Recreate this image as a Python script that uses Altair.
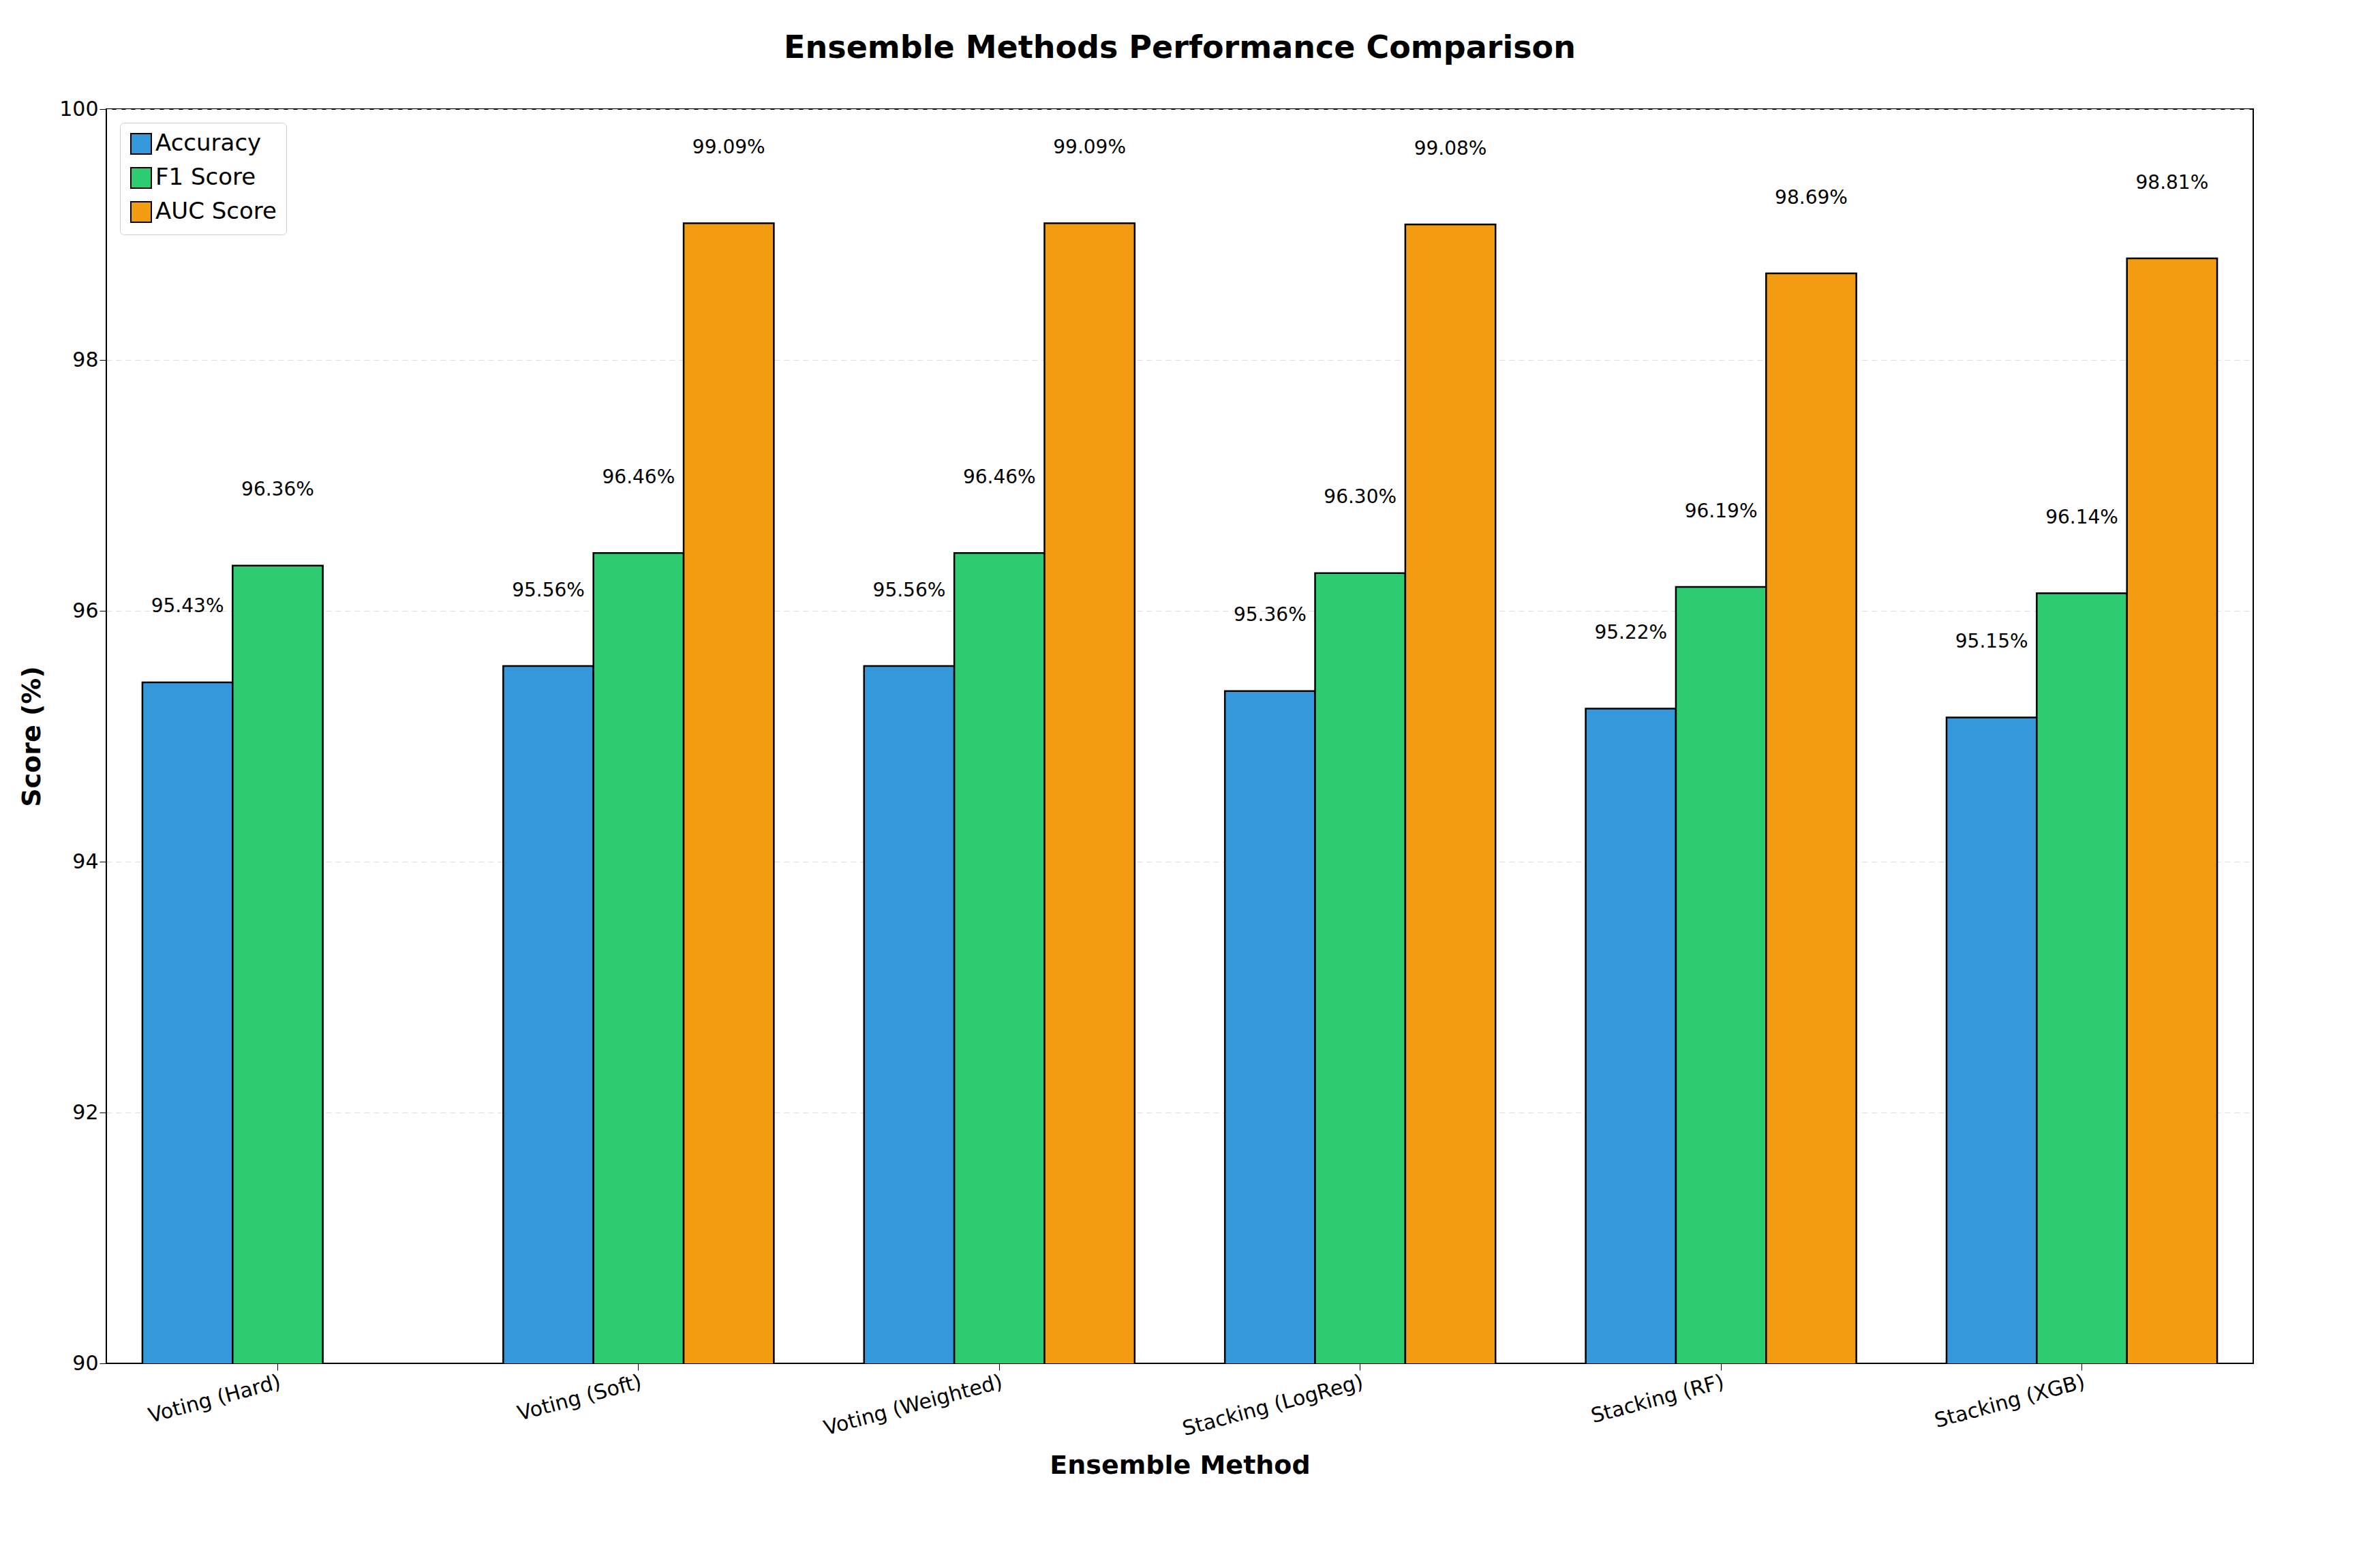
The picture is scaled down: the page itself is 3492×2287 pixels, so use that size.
import altair as alt
import pandas as pd

methods = ["Voting (Hard)", "Voting (Soft)", "Voting (Weighted)",
           "Stacking (LogReg)", "Stacking (RF)", "Stacking (XGB)"]
metrics = ["Accuracy", "F1 Score", "AUC Score"]
accuracy = [95.43, 95.56, 95.56, 95.36, 95.22, 95.15]
f1 = [96.36, 96.46, 96.46, 96.30, 96.19, 96.14]
auc = [None, 99.09, 99.09, 99.08, 98.69, 98.81]
colors = ["#3498db", "#2ecc71", "#f39c12"]

rows = []
for i, m in enumerate(methods):
    for metric, vals in zip(metrics, [accuracy, f1, auc]):
        if vals[i] is not None:
            rows.append({"method": m, "metric": metric, "score": vals[i],
                         "label": f"{vals[i]:.2f}%", "ly": vals[i] + 0.6})
frame = pd.DataFrame(rows)

x = alt.X("method:N", sort=methods, title="Ensemble Method",
          scale=alt.Scale(paddingInner=0.25, paddingOuter=0.1),
          axis=alt.Axis(labelAngle=-15, labelAlign="right", labelFontSize=30, labelLimit=0,
                        titleFontSize=38, titleFontWeight="bold", titlePadding=20,
                        tickSize=10, labelColor="black", domainColor="black", tickColor="black"))
xo = alt.XOffset("metric:N", sort=metrics)

base = alt.Chart(frame)
bars = base.mark_bar(stroke="black", strokeWidth=2.5, clip=True).encode(
    x=x, xOffset=xo,
    y=alt.Y("score:Q", title="Score (%)", scale=alt.Scale(domain=[90, 100]),
            axis=alt.Axis(values=[90, 92, 94, 96, 98, 100], format="d", labelFontSize=30,
                          titleFontSize=38, titleFontWeight="bold", titlePadding=20,
                          gridDash=[8, 6], gridColor="#dddddd", tickSize=10,
                          labelColor="black", domainColor="black", tickColor="black")),
    color=alt.Color("metric:N", sort=metrics, title=None,
                    scale=alt.Scale(domain=metrics, range=colors),
                    legend=alt.Legend(orient="top-left", labelFontSize=34, labelLimit=0,
                                      symbolType="square", symbolSize=900,
                                      symbolStrokeColor="black", symbolStrokeWidth=2,
                                      padding=14, strokeColor="#cccccc", fillColor="white",
                                      cornerRadius=6, rowPadding=12, offset=20)),
)
labels = base.mark_text(fontSize=28, color="black").encode(
    x=x, xOffset=xo, y=alt.Y("ly:Q"), text="label:N")

chart = (bars + labels).properties(
    width=3150, height=1840,
    padding={"top": 40, "left": 20, "right": 20, "bottom": 10},
    title=alt.TitleParams("Ensemble Methods Performance Comparison", fontSize=46,
                          fontWeight="bold", offset=50),
).configure(font="DejaVu Sans").configure_view(stroke="black", strokeWidth=2)

chart.save("out.html", embed_options={"renderer": "svg", "actions": False})
